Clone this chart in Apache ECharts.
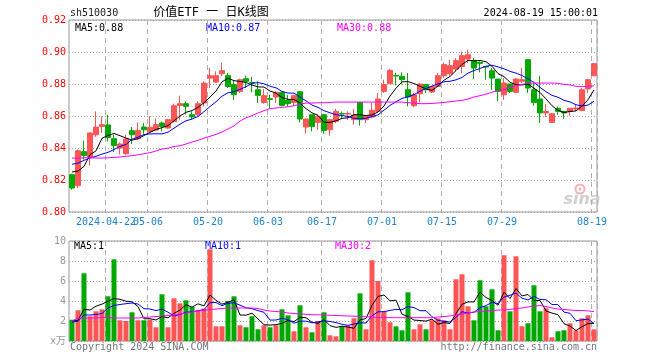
<!DOCTYPE html>
<html><head><meta charset="utf-8">
<script src="https://cdn.jsdelivr.net/npm/echarts@6/dist/echarts.min.js"></script>
<style>html,body{margin:0;padding:0;background:#fff}#c{width:660px;height:360px}</style>
</head><body><div id="c"></div>
<script>
const dates = ['2024-04-12','2024-04-15','2024-04-16','2024-04-17','2024-04-18','2024-04-19','2024-04-22','2024-04-23','2024-04-24','2024-04-25','2024-04-26','2024-04-29','2024-04-30',
'2024-05-06','2024-05-07','2024-05-08','2024-05-09','2024-05-10','2024-05-13','2024-05-14','2024-05-15','2024-05-16','2024-05-17','2024-05-20','2024-05-21','2024-05-22','2024-05-23','2024-05-24','2024-05-27','2024-05-28','2024-05-29','2024-05-30','2024-05-31',
'2024-06-03','2024-06-04','2024-06-05','2024-06-06','2024-06-07','2024-06-11','2024-06-12','2024-06-13','2024-06-14','2024-06-17','2024-06-18','2024-06-19','2024-06-20','2024-06-21','2024-06-24','2024-06-25','2024-06-26','2024-06-27','2024-06-28',
'2024-07-01','2024-07-02','2024-07-03','2024-07-04','2024-07-05','2024-07-08','2024-07-09','2024-07-10','2024-07-11','2024-07-12','2024-07-15','2024-07-16','2024-07-17','2024-07-18','2024-07-19','2024-07-22','2024-07-23','2024-07-24','2024-07-25','2024-07-26','2024-07-29','2024-07-30','2024-07-31',
'2024-08-01','2024-08-02','2024-08-05','2024-08-06','2024-08-07','2024-08-08','2024-08-09','2024-08-12','2024-08-13','2024-08-14','2024-08-15','2024-08-16','2024-08-19'];

const tickDates  = ['2024-04-22','2024-05-06','2024-05-20','2024-06-03','2024-06-17','2024-07-01','2024-07-15','2024-07-29','2024-08-19'];
const tickLabels = ['2024-04-22','05-06','05-20','06-03','06-17','07-01','07-15','07-29','08-19'];

const open = [0.8233,0.8165,0.8377,0.8344,0.8483,0.8535,0.8544,0.8458,0.8400,0.8364,
0.8508,0.8458,0.8531,0.8504,0.8512,0.8556,0.8525,0.8566,0.8666,0.8677,
0.8608,0.8608,0.8681,0.8837,0.8812,0.8864,0.8852,0.8796,0.8754,0.8833,
0.8810,0.8764,0.8685,0.8708,0.8719,0.8748,0.8698,0.8685,0.8752,0.8531,
0.8608,0.8560,0.8608,0.8514,0.8567,0.8616,0.8612,0.8577,0.8685,0.8577,
0.8594,0.8629,0.8754,0.8802,0.8854,0.8848,0.8764,0.8664,0.8739,0.8796,
0.8750,0.8785,0.8852,0.8864,0.8894,0.8910,0.8956,0.8948,0.8935,0.8910,
0.8883,0.8831,0.8733,0.8800,0.8748,0.8817,0.8952,0.8764,0.8706,0.8619,
0.8560,0.8648,0.8629,0.8629,0.8644,0.8635,0.8769,0.8852];
const close = [0.8150,0.8383,0.8352,0.8494,0.8531,0.8546,0.8466,0.8416,0.8425,0.8456,
0.8483,0.8510,0.8514,0.8529,0.8546,0.8535,0.8577,0.8664,0.8677,0.8660,
0.8594,0.8677,0.8806,0.8852,0.8852,0.8883,0.8785,0.8733,0.8827,0.8816,
0.8806,0.8729,0.8727,0.8704,0.8748,0.8666,0.8677,0.8727,0.8581,0.8581,
0.8535,0.8598,0.8510,0.8577,0.8629,0.8612,0.8616,0.8606,0.8577,0.8602,
0.8635,0.8706,0.8796,0.8885,0.8850,0.8827,0.8719,0.8733,0.8800,0.8764,
0.8785,0.8852,0.8921,0.8914,0.8946,0.8977,0.8983,0.8900,0.8929,0.8906,
0.8837,0.8754,0.8806,0.8754,0.8831,0.8827,0.8775,0.8685,0.8619,0.8629,
0.8614,0.8629,0.8619,0.8648,0.8650,0.8764,0.8827,0.8927];
const low = [0.8140,0.8150,0.8327,0.8290,0.8470,0.8494,0.8441,0.8375,0.8360,0.8358,
0.8425,0.8450,0.8488,0.8494,0.8510,0.8504,0.8520,0.8560,0.8577,0.8610,
0.8577,0.8600,0.8660,0.8775,0.8806,0.8848,0.8775,0.8700,0.8744,0.8775,
0.8748,0.8681,0.8677,0.8650,0.8681,0.8660,0.8660,0.8664,0.8560,0.8490,
0.8504,0.8514,0.8489,0.8477,0.8556,0.8581,0.8577,0.8546,0.8540,0.8556,
0.8585,0.8623,0.8744,0.8800,0.8792,0.8796,0.8660,0.8656,0.8685,0.8744,
0.8744,0.8783,0.8837,0.8852,0.8879,0.8869,0.8931,0.8831,0.8873,0.8827,
0.8764,0.8692,0.8702,0.8744,0.8744,0.8806,0.8744,0.8664,0.8556,0.8594,
0.8556,0.8608,0.8581,0.8602,0.8629,0.8629,0.8744,0.8848];
const high = [0.8240,0.8390,0.8446,0.8497,0.8629,0.8598,0.8608,0.8483,0.8435,0.8483,
0.8531,0.8560,0.8556,0.8598,0.8583,0.8566,0.8582,0.8677,0.8727,0.8690,
0.8629,0.8691,0.8816,0.8900,0.8879,0.8935,0.8869,0.8820,0.8833,0.8852,
0.8844,0.8816,0.8769,0.8733,0.8754,0.8754,0.8733,0.8733,0.8752,0.8583,
0.8610,0.8608,0.8610,0.8581,0.8644,0.8629,0.8629,0.8644,0.8687,0.8604,
0.8681,0.8744,0.8827,0.8894,0.8869,0.8873,0.8869,0.8744,0.8806,0.8798,
0.8787,0.8869,0.8935,0.8952,0.8962,0.9004,0.9014,0.8962,0.8942,0.8910,
0.8900,0.8831,0.8837,0.8800,0.8837,0.8900,0.8952,0.8806,0.8852,0.8677,
0.8619,0.8660,0.8629,0.8650,0.8671,0.8775,0.8827,0.8931];

const ma5 = [0.8250,0.8256,0.8285,0.8358,0.8382,0.8461,0.8478,0.8491,0.8477,0.8462,
0.8449,0.8458,0.8478,0.8498,0.8516,0.8527,0.8540,0.8570,0.8600,0.8623,
0.8634,0.8654,0.8683,0.8718,0.8756,0.8814,0.8836,0.8821,0.8816,0.8809,
0.8793,0.8782,0.8781,0.8756,0.8743,0.8715,0.8704,0.8704,0.8680,0.8646,
0.8620,0.8604,0.8561,0.8560,0.8570,0.8585,0.8589,0.8608,0.8608,0.8603,
0.8607,0.8625,0.8663,0.8725,0.8774,0.8813,0.8815,0.8803,0.8786,0.8769,
0.8760,0.8787,0.8824,0.8847,0.8884,0.8922,0.8948,0.8944,0.8947,0.8939,
0.8911,0.8865,0.8846,0.8811,0.8796,0.8794,0.8799,0.8774,0.8747,0.8707,
0.8664,0.8635,0.8622,0.8628,0.8632,0.8662,0.8702,0.8763];
const ma10 = [0.8298,0.8306,0.8323,0.8337,0.8348,0.8362,0.8373,0.8390,0.8410,0.8422,
0.8455,0.8468,0.8484,0.8488,0.8489,0.8488,0.8499,0.8524,0.8549,0.8570,
0.8581,0.8597,0.8627,0.8659,0.8689,0.8724,0.8745,0.8752,0.8767,0.8783,
0.8804,0.8809,0.8801,0.8786,0.8776,0.8754,0.8743,0.8743,0.8718,0.8695,
0.8668,0.8654,0.8633,0.8620,0.8608,0.8603,0.8597,0.8585,0.8584,0.8586,
0.8596,0.8607,0.8636,0.8666,0.8689,0.8710,0.8720,0.8733,0.8755,0.8772,
0.8787,0.8801,0.8814,0.8817,0.8826,0.8841,0.8868,0.8884,0.8897,0.8911,
0.8917,0.8907,0.8895,0.8879,0.8868,0.8853,0.8832,0.8810,0.8779,0.8752,
0.8729,0.8717,0.8698,0.8688,0.8670,0.8663,0.8668,0.8693];
const ma30 = [0.8337,0.8337,0.8339,0.8339,0.8337,0.8337,0.8339,0.8341,0.8344,0.8348,
0.8352,0.8358,0.8364,0.8371,0.8381,0.8394,0.8398,0.8410,0.8414,0.8425,
0.8437,0.8448,0.8462,0.8473,0.8485,0.8500,0.8519,0.8539,0.8568,0.8589,
0.8602,0.8619,0.8633,0.8646,0.8650,0.8654,0.8658,0.8664,0.8675,0.8681,
0.8681,0.8683,0.8683,0.8685,0.8687,0.8687,0.8687,0.8687,0.8687,0.8687,
0.8687,0.8687,0.8687,0.8687,0.8687,0.8687,0.8683,0.8681,0.8677,0.8677,
0.8679,0.8681,0.8685,0.8689,0.8694,0.8698,0.8706,0.8719,0.8727,0.8737,
0.8748,0.8760,0.8764,0.8779,0.8789,0.8798,0.8804,0.8806,0.8806,0.8806,
0.8806,0.8804,0.8798,0.8794,0.8785,0.8785,0.8785,0.8789];

const volume = [2.13,3.07,6.77,2.47,2.97,3.17,4.47,8.17,2.07,2.00,
2.87,2.07,2.07,2.13,1.37,4.67,1.37,4.27,3.77,4.07,
3.40,3.07,3.23,9.17,1.47,1.47,4.00,4.47,1.57,1.37,
2.47,1.17,1.57,1.37,1.57,3.17,2.57,0.97,3.57,1.37,
0.87,2.00,2.87,0.57,0.47,1.47,1.57,2.27,4.77,1.17,
8.07,6.00,2.97,1.87,1.47,1.07,4.87,1.17,1.67,1.17,
2.07,2.27,2.07,1.17,6.17,6.67,3.47,2.07,6.07,3.47,
5.17,1.07,8.57,2.97,8.47,1.47,1.77,5.57,2.97,3.27,
0.37,0.97,1.07,1.77,1.07,2.27,2.57,1.17];
const volMa5 = [2.00,2.07,3.17,3.10,3.48,3.69,3.97,4.25,4.17,3.98,
3.92,3.44,2.22,2.23,2.10,2.46,2.32,2.76,3.09,3.63,
3.38,3.72,3.51,4.59,4.07,3.68,3.87,4.12,2.60,2.58,
2.78,2.21,1.63,1.59,1.63,1.77,2.05,1.93,2.37,2.33,
1.87,1.76,2.14,1.54,1.36,1.48,1.39,1.27,2.11,2.25,
3.57,4.46,4.60,4.02,4.08,2.68,2.45,2.09,2.05,1.99,
2.19,1.67,1.85,1.75,2.75,3.67,3.91,3.91,4.89,4.35,
4.05,3.57,4.87,4.25,5.25,4.51,4.65,4.05,4.05,3.01,
2.79,2.63,1.73,1.49,1.05,1.43,1.75,1.77];
const volMa10 = [1.90,1.97,2.60,2.60,2.65,2.75,3.30,3.55,3.65,3.73,
3.80,3.70,3.23,3.20,3.04,3.19,2.88,2.49,2.66,2.87,
2.92,3.02,3.14,3.84,3.85,3.53,3.79,3.81,3.59,3.32,
3.23,3.04,2.87,2.09,2.10,2.27,2.13,1.78,1.98,1.98,
1.82,1.90,2.03,1.95,1.84,1.67,1.57,1.70,1.82,1.80,
2.52,2.92,2.93,3.06,3.16,3.12,3.45,3.34,3.03,3.03,
2.43,2.06,1.97,1.90,2.37,2.93,2.79,2.88,3.32,3.55,
3.86,3.74,4.39,4.57,4.80,4.28,4.11,4.46,4.15,4.13,
3.65,3.64,2.89,2.77,2.03,2.11,2.19,1.75];
const volMa30 = [2.00,2.30,2.30,2.30,2.30,2.35,2.35,2.30,2.30,2.30,
2.30,2.30,2.35,2.40,2.45,2.50,2.55,2.60,2.70,2.80,
2.90,3.00,3.07,3.15,3.20,3.25,3.30,3.30,3.30,3.30,
3.30,3.25,3.10,3.00,2.95,2.90,2.80,2.75,2.70,2.67,
2.63,2.62,2.60,2.57,2.55,2.53,2.50,2.48,2.47,2.42,
2.40,2.35,2.33,2.33,2.33,2.33,2.33,2.33,2.33,2.33,
2.33,2.40,2.45,2.50,2.60,2.70,2.80,2.90,2.95,3.00,
3.05,3.10,3.10,3.15,3.25,3.30,3.40,3.50,3.55,3.45,
3.30,3.20,3.15,3.10,3.05,3.05,3.00,2.95];

const MONO = 'DejaVu Sans Mono';
const UP = '#ff5555', DOWN = '#00a800';
const GRIDC = '#a0a0a0';
const isTick = (i) => tickDates.indexOf(dates[i]) >= 0;
// the first tick label overlaps its neighbour in the original, so it is drawn by its own axis
const isFirstTick = (i) => dates[i] === tickDates[0];
const isOtherTick = (i) => isTick(i) && !isFirstTick(i);

const chart = echarts.init(document.getElementById('c'));
const labelStyle = (intervalFn) => ({
  interval: intervalFn, hideOverlap: false,
  formatter: (v) => tickLabels[tickDates.indexOf(v)],
  color: '#1f82d2', fontFamily: MONO, fontSize: 10, margin: 5, padding: [0, 4, 0, 0]
});
const xBase = (gi, label, split) => ({
  type: 'category', gridIndex: gi, data: dates, boundaryGap: true, position: 'bottom',
  axisLine: {show: false}, axisTick: {show: false},
  axisLabel: label || {show: false},
  splitLine: split ? {show: true, interval: (i) => isTick(i), lineStyle: {color: '#b0b0b0', type: [5, 4], width: 1}} : {show: false}
});
const txt = (text, x, y, color, size, align, family) => ({
  type: 'text', x: x, y: y, silent: true,
  style: {text: text, fill: color, font: (size || 10) + 'px ' + (family || MONO), align: align || 'left', verticalAlign: 'middle'}
});

chart.setOption({
  animation: false,
  backgroundColor: '#fff',
  grid: [
    {left: 69, top: 20, width: 528, height: 192, show: true, borderColor: '#999', borderWidth: 1},
    {left: 69, top: 241, width: 528, height: 100, show: true, borderColor: '#999', borderWidth: 1}
  ],
  xAxis: [
    xBase(0, labelStyle(isOtherTick), true),
    xBase(1, null, true),
    xBase(0, labelStyle(isFirstTick), false)
  ],
  yAxis: [
    {type: 'value', gridIndex: 0, min: 0.80, max: 0.92, interval: 0.02,
     axisLine: {show: false}, axisTick: {show: false},
     axisLabel: {formatter: (v) => v.toFixed(2), color: '#ff0000', fontFamily: MONO, fontSize: 10, margin: 3},
     splitLine: {lineStyle: {color: GRIDC, type: [1, 2]}}},
    {type: 'value', gridIndex: 1, min: 0, max: 10, interval: 2,
     axisLine: {show: false}, axisTick: {show: false},
     axisLabel: {formatter: (v) => v === 0 ? 'x万' : String(v), color: '#999', fontFamily: MONO + ', Noto Sans CJK SC', fontSize: 10, margin: 3},
     splitLine: {lineStyle: {color: GRIDC, type: [1, 2]}}}
  ],
  series: [
    {type: 'candlestick', xAxisIndex: 0, yAxisIndex: 0, barWidth: 5,
     data: open.map((o, i) => [o, close[i], low[i], high[i]]),
     itemStyle: {color: UP, color0: DOWN, borderColor: UP, borderColor0: DOWN, borderWidth: 1}},
    {type: 'line', xAxisIndex: 0, yAxisIndex: 0, data: ma5, symbol: 'none', lineStyle: {color: '#000', width: 1}},
    {type: 'line', xAxisIndex: 0, yAxisIndex: 0, data: ma10, symbol: 'none', lineStyle: {color: '#0000ff', width: 1}},
    {type: 'line', xAxisIndex: 0, yAxisIndex: 0, data: ma30, symbol: 'none', lineStyle: {color: '#ff00ff', width: 1}},
    {type: 'bar', xAxisIndex: 1, yAxisIndex: 1, barWidth: 5,
     data: volume.map((v, i) => ({value: v, itemStyle: {color: close[i] >= open[i] ? UP : DOWN}}))},
    {type: 'line', xAxisIndex: 1, yAxisIndex: 1, data: volMa5, symbol: 'none', lineStyle: {color: '#000', width: 1}},
    {type: 'line', xAxisIndex: 1, yAxisIndex: 1, data: volMa10, symbol: 'none', lineStyle: {color: '#0000ff', width: 1}},
    {type: 'line', xAxisIndex: 1, yAxisIndex: 1, data: volMa30, symbol: 'none', lineStyle: {color: '#ff00ff', width: 1}}
  ],
  graphic: [
    txt('sh510030', 70, 13, '#222', 10),
    txt('价值ETF 一 日K线图', 211, 13, '#000', 12, 'center', MONO + ', Noto Sans CJK SC'),
    txt('2024-08-19 15:00:01', 598, 13, '#000', 10, 'right'),
    txt('MA5:0.88', 75, 28, '#000', 10),
    txt('MA10:0.87', 206, 28, '#0000ff', 10),
    txt('MA30:0.88', 337, 28, '#ff00ff', 10),
    txt('MA5:1', 74, 246, '#000', 10),
    txt('MA10:1', 205, 246, '#0000ff', 10),
    txt('MA30:2', 335, 246, '#ff00ff', 10),
    txt('Copyright 2024 SINA.COM', 70, 347, '#777', 10),
    txt('http://finance.sina.com.cn', 597, 347, '#777', 10, 'right'),
    {type: 'circle', silent: true, shape: {cx: 580, cy: 189, r: 4.5}, style: {fill: 'none', stroke: '#f6b0b0', lineWidth: 2}},
    {type: 'circle', silent: true, shape: {cx: 580, cy: 189, r: 1.5}, style: {fill: '#f6b0b0'}},
    {type: 'text', silent: true, x: 582, y: 200, style: {text: 'sina', fill: '#cfcfcf', font: 'italic bold 16px DejaVu Sans', align: 'center', verticalAlign: 'middle'}}
  ]
});
</script>
</body></html>
